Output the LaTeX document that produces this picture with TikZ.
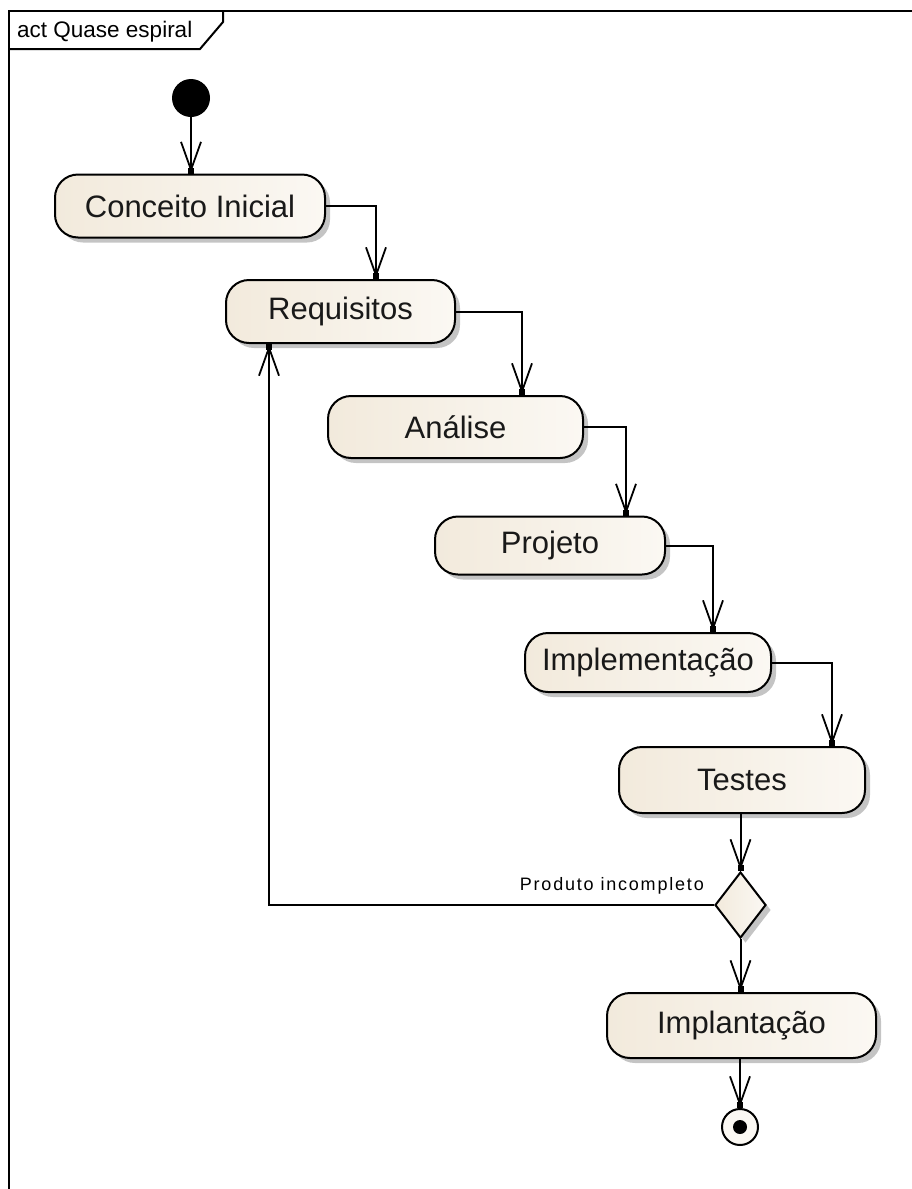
\documentclass[tikz,border=0pt]{standalone}
\usepackage{fontspec}
\setmainfont{Liberation Sans}
\newfontfamily\guardfont[LetterSpace=10]{Liberation Sans}
\usetikzlibrary{arrows.meta,shapes.geometric,shadows}
\definecolor{actleft}{RGB}{242,234,220}
\definecolor{actright}{RGB}{251,248,243}
\definecolor{shadowgray}{RGB}{196,196,196}
\definecolor{inkgray}{RGB}{25,25,25}
\begin{document}
\begin{tikzpicture}[x=1pt,y=-1pt,
  action/.style={draw, line width=2pt, rounded corners=23pt,
    left color=actleft, right color=actright,
    drop shadow={shadow xshift=5pt, shadow yshift=-5pt, fill=shadowgray, opacity=1},
    font=\fontsize{31}{34}\selectfont, text=inkgray, inner sep=0pt},
  flow/.style={line width=2pt,
    -{Straight Barb[length=28pt,width=20pt,line width=1.8pt,sep=-5pt]Square[length=6pt,width=6pt]}},
  frameline/.style={line width=2pt}]
\useasboundingbox (0,0) rectangle (912,1189);

% diagram frame and its name tab
\draw[frameline] (9,1189) -- (9,11) -- (912,11);
\draw[frameline] (9,49) -- (200,49) -- (223,22) -- (223,11);
\node[anchor=base west, font=\fontsize{22.5}{26}\selectfont, inner sep=0pt] (frametitle) at (17,37) {act Quase espiral};

% start node
\node[circle, fill=black, minimum size=38pt, inner sep=0pt] (start) at (191,98) {};

% actions
\node[action, minimum width=270pt, minimum height=63pt] (concept) at (190,206) {Conceito Inicial};
\node[action, minimum width=229pt, minimum height=63pt] (req) at (340.5,311.5) {Requisitos};
\node[action, minimum width=255pt, minimum height=62pt] (analise) at (455.5,427) {Análise};
\node[action, minimum width=230pt, minimum height=58pt] (projeto) at (550,545.5) {Projeto};
\node[action, minimum width=246pt, minimum height=59pt] (impl) at (648,662.5) {Implementação};
\node[action, minimum width=246pt, minimum height=66pt] (testes) at (742,780) {Testes};

% decision
\node[diamond, draw, line width=2pt, left color=actleft, right color=actright,
  drop shadow={shadow xshift=5pt, shadow yshift=-5pt, fill=shadowgray, opacity=1},
  minimum width=51pt, minimum height=66pt, inner sep=0pt] (guard) at (740.5,905) {};
\node[anchor=base east, font=\guardfont\fontsize{18}{21}\selectfont, inner sep=0pt] (guardlbl) at (704,890) {Produto incompleto};

\node[action, minimum width=269pt, minimum height=65pt] (implant) at (741.5,1025.5) {Implantação};

% final node
\node[circle, draw, line width=2pt, fill=actright, minimum size=36pt, inner sep=0pt] (final) at (740,1127) {};
\node[circle, fill=black, minimum size=14pt, inner sep=0pt] (finaldot) at (final) {};

% drop columns of the staircase
\coordinate (c1) at (376,0);
\coordinate (c2) at (522,0);
\coordinate (c3) at (626,0);
\coordinate (c4) at (713,0);
\coordinate (c5) at (832,0);
\coordinate (back) at (269,0);

% flows
\draw[flow] (start) -- (start |- concept.north);
\draw[flow] (concept.east) -| (c1 |- req.north);
\draw[flow] (req.east) -| (c2 |- analise.north);
\draw[flow] (analise.east) -| (c3 |- projeto.north);
\draw[flow] (projeto.east) -| (c4 |- impl.north);
\draw[flow] (impl.east) -| (c5 |- testes.north);
\draw[flow] (guard.north |- testes.south) -- (guard.north);
\draw[flow] (guard.west) -| (back |- req.south);
\draw[flow] (guard.south) -- (guard.south |- implant.north);
\draw[flow] (final.north |- implant.south) -- (final.north);
\end{tikzpicture}
\end{document}
